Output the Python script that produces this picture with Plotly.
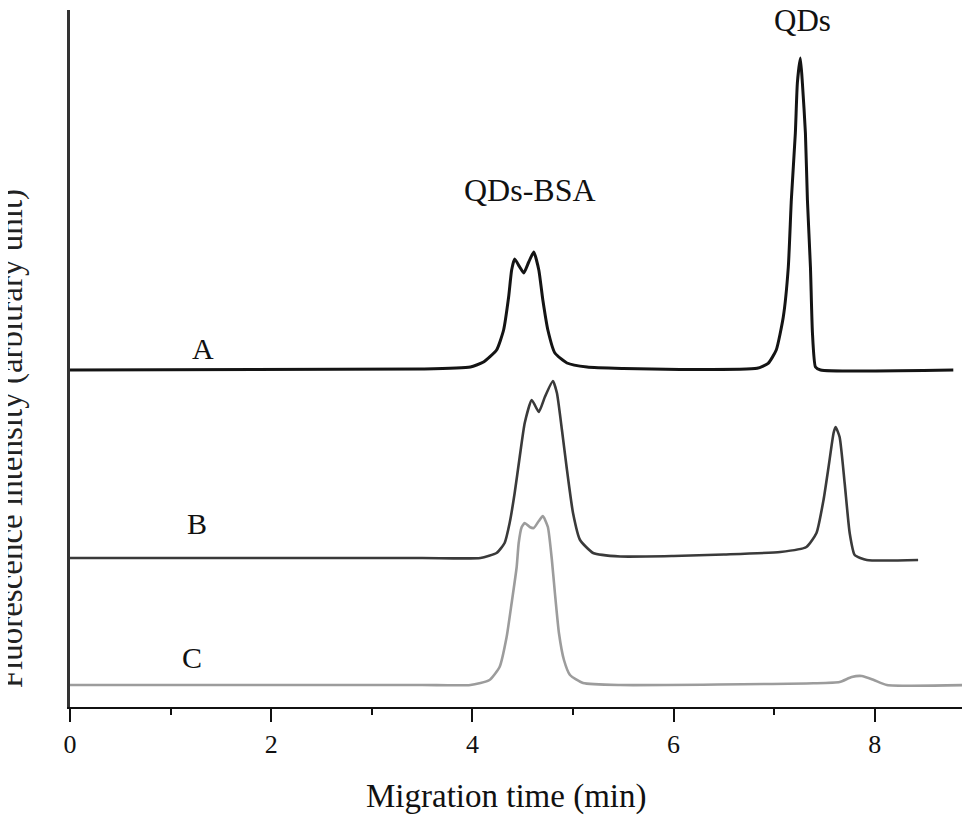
import plotly.graph_objects as go

# ==========================================
# Data
# ==========================================
# migration time (min) and signal height above each trace's baseline
A_time = [0.0, 3.5, 3.98, 4.11, 4.24, 4.31, 4.36, 4.39, 4.42, 4.47, 4.51, 4.56, 4.61, 4.66,
          4.70, 4.75, 4.82, 4.94, 5.14, 5.5, 6.06, 6.83, 6.94, 7.02, 7.09, 7.14, 7.17, 7.21,
          7.23, 7.26, 7.28, 7.31, 7.33, 7.36, 7.38, 7.41, 7.46, 8.78]
A_signal = [0, 1, 3, 8, 20, 40, 73, 100, 111, 103, 97, 108, 118, 100,
            70, 40, 17, 7, 3, 1.5, 0.5, 1.7, 6.7, 20, 53, 103, 170, 237,
            287, 312, 287, 237, 170, 103, 37, 3, 0, 0]

B_time = [0.0, 3.5, 4.08, 4.24, 4.32, 4.37, 4.42, 4.47, 4.52, 4.59, 4.66, 4.72, 4.80, 4.84,
          4.89, 4.94, 5.00, 5.07, 5.20, 5.47, 6.0, 6.5, 7.06, 7.32, 7.42, 7.49, 7.54, 7.59,
          7.61, 7.65, 7.70, 7.75, 7.80, 7.92, 8.43]
B_signal = [0, 0, 0, 5, 15, 35, 65, 101, 135, 158, 146, 161, 177, 165,
            128, 88, 45, 18, 5, 1.5, 2, 3.5, 6, 11, 25, 58, 91, 125,
            131, 121, 75, 25, 3, -2, -2]

C_time = [0.0, 3.5, 3.98, 4.17, 4.27, 4.34, 4.39, 4.44, 4.46, 4.49, 4.52, 4.57, 4.61, 4.66,
          4.70, 4.75, 4.79, 4.82, 4.86, 4.91, 4.97, 5.10, 5.47, 7.39, 7.65, 7.77, 7.87, 7.99,
          8.12, 8.95]
C_signal = [0, 0, 0, 5, 18, 48, 82, 118, 142, 158, 162, 158, 157, 164,
            169, 158, 125, 92, 52, 25, 10, 2, 0, 1.7, 3, 8, 9, 5,
            0, 0]

trace_names = ["A", "B", "C"]
trace_offsets = [337, 149, 22]

peak_labels = ["QDs-BSA", "QDs"]
peak_label_x = [4.57, 7.28]
peak_label_y = [517, 687]

x_ticks = [0, 2, 4, 6, 8]

# ==========================================
# Style
# ==========================================
FONT = "Liberation Serif"
COLORS = ["#141414", "#3a3a3a", "#9c9c9c"]
WIDTHS = [3, 2.6, 2.6]

fig = go.Figure()

series = [(A_time, A_signal), (B_time, B_signal), (C_time, C_signal)]
for (t, s), name, off, col, w in zip(series, trace_names, trace_offsets, COLORS, WIDTHS):
    fig.add_trace(
        go.Scatter(
            x=t,
            y=[v + off for v in s],
            mode="lines",
            line=dict(color=col, width=w, shape="spline", smoothing=0.5),
            name=name,
            showlegend=False,
            hoverinfo="skip"
        )
    )

# trace letters
label_x = [1.32, 1.26, 1.21]
label_dy = [22, 35, 28]
for name, lx, off, dy in zip(trace_names, label_x, trace_offsets, label_dy):
    fig.add_annotation(
        x=lx, y=off + dy, text=name, showarrow=False,
        font=dict(family=FONT, size=30, color="#111111")
    )

# peak labels
for txt, px, py, fs in zip(peak_labels, peak_label_x, peak_label_y, [32, 31]):
    fig.add_annotation(
        x=px, y=py, text=txt, showarrow=False,
        font=dict(family=FONT, size=fs, color="#111111")
    )

# axis titles
fig.add_annotation(
    xref="paper", yref="paper", x=0.484, y=-0.158,
    text="Migration time (min)", showarrow=False,
    font=dict(family=FONT, size=33, color="#111111")
)
fig.add_annotation(
    xref="paper", yref="paper", x=-0.042, y=0.385,
    xanchor="right", yanchor="middle", textangle=-90,
    text="Fluorescence intensity (arbitrary unit)", showarrow=False,
    font=dict(family=FONT, size=33, color="#222222")
)

# page body has an 8px margin, so the figure is 8px smaller
fig.update_layout(
    width=962,
    height=812,
    plot_bgcolor="white",
    paper_bgcolor="white",
    margin=dict(l=62, r=0, t=2, b=113),
    showlegend=False
)

fig.update_xaxes(
    range=[0, 8.946],
    tickvals=x_ticks,
    ticks="outside",
    ticklen=13,
    tickwidth=2,
    tickcolor="#111111",
    minor=dict(dtick=1, tick0=0, ticks="outside", ticklen=6, tickwidth=2, tickcolor="#111111"),
    showgrid=False,
    zeroline=False,
    showline=True,
    linecolor="#111111",
    linewidth=2,
    tickfont=dict(family=FONT, size=26, color="#111111"),
    ticklabelstandoff=0
)

fig.update_yaxes(
    range=[0, 697],
    showticklabels=False,
    ticks="",
    showgrid=False,
    zeroline=False,
    showline=True,
    linecolor="#333333",
    linewidth=2.5
)

fig.write_html("out.html")
